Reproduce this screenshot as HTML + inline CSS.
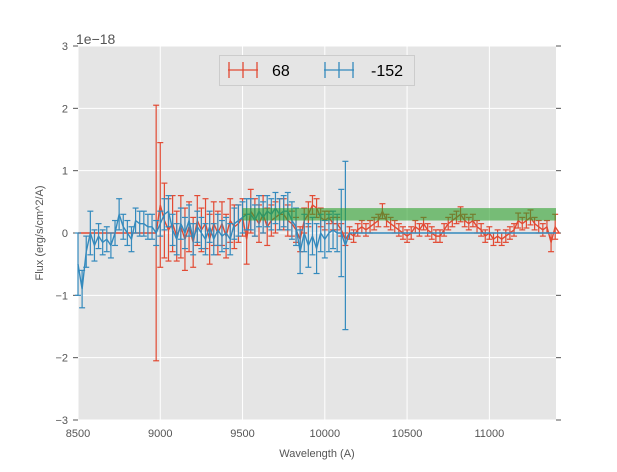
<!DOCTYPE html>
<html><head><meta charset="utf-8"><style>
body{margin:0;background:#fff;font-family:"Liberation Sans",sans-serif}
svg text{font-family:"Liberation Sans","DejaVu Sans",sans-serif}
</style></head><body>
<svg id="c" width="617" height="467"></svg>
<script>
const blueX0=8500, step=25;
const blueVals=[-0.5,-0.9,-0.3,0,-0.2,-0.05,-0.15,-0.1,-0.2,0,0.3,0.1,0,-0.1,0.2,0.15,0.15,0.1,0.1,0,0.15,0.3,0.35,0.05,-0.1,0.15,0,0.2,-0.1,0.1,0,-0.1,0.1,-0.1,0.05,-0.05,0,-0.1,0.15,0.2,0.25,0.3,0.3,0.2,0.35,0.25,0.35,0.3,0.4,0.3,0.35,0.35,0.2,0.1,-0.3,0,-0.2,-0.05,-0.25,0,-0.1,0,0.05,0,0,-0.2];
const blueErr=[0.5,0.3,0.25,0.35,0.25,0.2,0.2,0.2,0.2,0.2,0.25,0.2,0.2,0.2,0.2,0.2,0.2,0.2,0.2,0.2,0.2,0.25,0.25,0.25,0.25,0.25,0.25,0.25,0.25,0.25,0.25,0.25,0.25,0.25,0.25,0.25,0.25,0.25,0.25,0.25,0.25,0.25,0.25,0.25,0.25,0.25,0.25,0.25,0.25,0.25,0.25,0.3,0.3,0.3,0.35,0.3,0.35,0.3,0.4,0.3,0.3,0.3,0.3,0.3,0.7,1.35];
const redX0=8975;
const redVals=[0,0.45,0.2,0.05,0.15,-0.05,0.1,-0.1,0.1,-0.15,0.2,0.05,0.15,-0.1,0.15,0,0.15,-0.05,0.2,0.1,0.15,0.25,-0.1,0.35,0.25,0.15,0.3,0.1,0.2,0.25,0.3,0.3,0.2,0.15,0.05,-0.1,0.2,0.3,0.45,0.4,0.25,0.2,0.25,0.15,0.15,0.05,-0.1,0,-0.05,0.05,0.1,0.05,0.1,0.15,0.2,0.35,0.2,0.15,0.1,0.05,0,-0.05,0,0.1,0.05,0.15,0.05,0,-0.05,-0.05,0.05,0.15,0.2,0.25,0.3,0.2,0.15,0.2,0.1,0.05,-0.05,0,-0.1,-0.05,-0.1,-0.05,0,0.05,0.2,0.15,0.2,0.25,0.15,0.1,0.05,0.1,-0.15,0.1];
const redErr=[2.05,1.0,0.6,0.5,0.45,0.4,0.5,0.5,0.4,0.4,0.4,0.35,0.4,0.4,0.35,0.35,0.35,0.35,0.35,0.35,0.3,0.3,0.4,0.35,0.3,0.3,0.3,0.3,0.25,0.25,0.25,0.25,0.25,0.2,0.2,0.2,0.2,0.2,0.15,0.15,0.15,0.15,0.1,0.1,0.1,0.1,0.1,0.1,0.1,0.1,0.1,0.1,0.1,0.1,0.1,0.12,0.1,0.1,0.1,0.1,0.1,0.1,0.1,0.1,0.1,0.1,0.1,0.1,0.1,0.1,0.1,0.1,0.1,0.1,0.12,0.1,0.1,0.1,0.1,0.1,0.1,0.1,0.1,0.1,0.1,0.1,0.1,0.1,0.12,0.1,0.12,0.12,0.1,0.1,0.1,0.1,0.15,0.2];
const xTicks=[8500,9000,9500,10000,10500,11000];
const yTicks=[-3,-2,-1,0,1,2,3];
const band=[9500,11405,0.2,0.4];
const L=78,R=556,T=46,B=420,xmin=8500,xmax=11405;
const X=v=>L+(v-xmin)/(xmax-xmin)*(R-L);
const Y=v=>T+(3-v)/6*(B-T);
const svg=document.getElementById('c');
const NS='http://www.w3.org/2000/svg';
function mk(tag,a,p){const e=document.createElementNS(NS,tag);for(const k in a)e.setAttribute(k,a[k]);(p||svg).appendChild(e);return e;}
let e=mk('rect',{x:L,y:T,width:R-L,height:B-T,fill:'#e5e5e5'});

xTicks.forEach(t=>{mk('line',{x1:X(t),x2:X(t),y1:T,y2:B,stroke:'#fff','stroke-width':1});
 const tx=mk('text',{x:X(t),y:B+17,'text-anchor':'middle','font-size':11,fill:'#555'});tx.textContent=t;
 });
yTicks.forEach(t=>{mk('line',{x1:L,x2:R,y1:Y(t),y2:Y(t),stroke:'#fff','stroke-width':1});
 mk('line',{x1:L-5,x2:L,y1:Y(t),y2:Y(t),stroke:'#555'});mk('line',{x1:R,x2:R+5,y1:Y(t),y2:Y(t),stroke:'#555'});
 const tx=mk('text',{x:L-10,y:Y(t)+4,'text-anchor':'end','font-size':11,fill:'#555'});tx.textContent=t===0?'0':(t<0?'\u2212'+(-t):t);
 });
function series(x0,vals,errs,col,name){
 const g=mk('g',{});
 const xs=vals.map((v,i)=>x0+i*step);
 let pts=[];
 if(x0>xmin)pts.push([X(xmin),Y(0)],[X(x0-step),Y(0)]);
 xs.forEach((x,i)=>pts.push([X(x),Y(vals[i])]));
 const last=xs[xs.length-1];
 if(last<xmax)pts.push([X(last+step),Y(0)],[X(xmax),Y(0)]);
 vals.forEach((v,i)=>{const x=X(xs[i]);
  mk('line',{x1:x,x2:x,y1:Y(v-errs[i]),y2:Y(v+errs[i]),stroke:col,'stroke-width':1.2},g);
  mk('line',{x1:x-3,x2:x+3,y1:Y(v-errs[i]),y2:Y(v-errs[i]),stroke:col,'stroke-width':1.2},g);
  mk('line',{x1:x-3,x2:x+3,y1:Y(v+errs[i]),y2:Y(v+errs[i]),stroke:col,'stroke-width':1.2},g);});
 mk('polyline',{points:pts.map(p=>p.join(',')).join(' '),fill:'none',stroke:col,'stroke-width':1.4},g);
}
series(redX0,redVals,redErr,'#e24a33','series-68');
series(blueX0,blueVals,blueErr,'#348abd','series-minus-152');
e=mk('rect',{x:X(band[0]),y:Y(band[3]),width:X(band[1])-X(band[0]),height:Y(band[2])-Y(band[3]),fill:'#2ca02c','fill-opacity':0.6});

</script>
<svg width="617" height="467" style="position:absolute;left:0;top:0">
<text x="76" y="44" font-size="14" fill="#555">1e−18</text>
<text x="317" y="457" text-anchor="middle" font-size="11" fill="#555">Wavelength (A)</text>
<text transform="translate(43,233) rotate(-90)" text-anchor="middle" font-size="11" fill="#555">Flux (erg/s/cm^2/A)</text>
<g>
<rect x="219.5" y="55.5" width="195" height="30" fill="#e5e5e5" stroke="#ccc"/>
<g stroke="#e24a33" stroke-width="1.3"><line x1="228" x2="258" y1="70" y2="70"/><line x1="243" x2="243" y1="62" y2="78"/><line x1="229" x2="229" y1="62" y2="78"/><line x1="257" x2="257" y1="62" y2="78"/></g>
<text x="272" y="76" font-size="16" fill="#000">68</text>
<g stroke="#348abd" stroke-width="1.3"><line x1="324" x2="354" y1="70" y2="70"/><line x1="339" x2="339" y1="62" y2="78"/><line x1="325" x2="325" y1="62" y2="78"/><line x1="353" x2="353" y1="62" y2="78"/></g>
<text x="371" y="76" font-size="16" fill="#000">-152</text>
</g>
</svg>
</body></html>
